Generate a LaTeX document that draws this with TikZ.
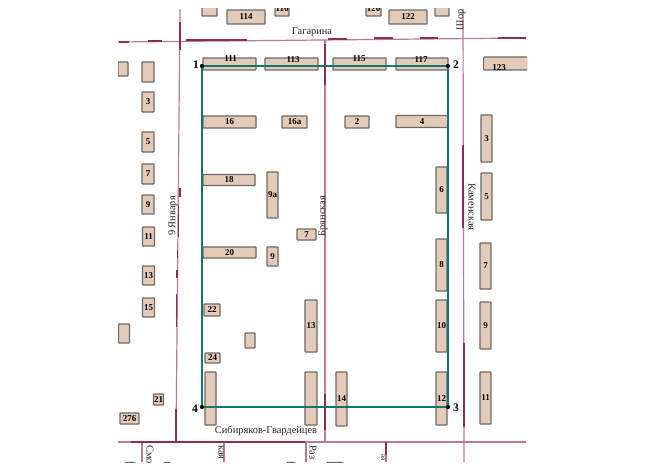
\documentclass[tikz,border=0pt]{standalone}
\usepackage{fontspec}
\setmainfont{Liberation Serif}
\usetikzlibrary{positioning}
\definecolor{walltan}{HTML}{E3CBBA}
\definecolor{wallgray}{HTML}{6F6862}
\definecolor{roadpink}{HTML}{B77A9B}
\definecolor{roaddark}{HTML}{8E2B5A}
\definecolor{routegreen}{HTML}{12766F}
\tikzset{
    house/.style 2 args={
        shape=rectangle,
        draw=wallgray,
        fill=walltan,
        line width=1.1pt,
        rounded corners=0.5pt,
        inner sep=0pt,
        minimum width=#1pt,
        minimum height=#2pt,
        font=\fontsize{9}{9}\selectfont\bfseries
    },
    housenumber/.style ={
        inner sep=0pt,
        font=\fontsize{9}{9}\selectfont\bfseries
    },
    road/.style ={
        draw=roadpink,
        line width=1.2pt
    },
    roadbold/.style ={
        draw=roaddark,
        line width=1.8pt
    },
    street/.style ={
        inner sep=0pt,
        text=black!85,
        font=\fontsize{10.4}{11}\selectfont
    },
    corner/.style ={
        shape=circle,
        fill=black,
        inner sep=0pt,
        minimum size=4pt
    },
    cornerlabel/.style ={
        inner sep=0pt,
        font=\fontsize{11.5}{12}\selectfont\bfseries
    },
    route/.style ={
        draw=routegreen,
        line width=2pt
    }
}

\begin{document}
\begin{tikzpicture}[x=1pt,y=-1pt]
    \useasboundingbox (0,0) rectangle (655,473);
    \begin{scope}
    \clip (118,9) rectangle (527,462);
    % roads
    \draw[road] (118,42) -- (526,38);
    \draw[road] (180,9) -- (176,442);
    \draw[road] (118,442) -- (526,442);
    \draw[road] (325,40) -- (325,442);
    \draw[road] (463,9) -- (464,462);
    \draw[road] (142,442) -- (142,462);
    \draw[road] (224,442) -- (224,462);
    \draw[road] (306,442) -- (306,462);
    \draw[road] (386,442) -- (386,462);
    \draw[roadbold] (119,42) -- (129,42);
    \draw[roadbold] (148,41) -- (162,41);
    \draw[roadbold] (186,40) -- (247,40);
    \draw[roadbold] (328,39) -- (347,39);
    \draw[roadbold] (374,38) -- (393,38);
    \draw[roadbold] (420,38) -- (438,38);
    \draw[roadbold] (498,38) -- (526,38);
    \draw[roadbold] (180,22) -- (180,50);
    \draw[roadbold] (180,188) -- (180,197);
    \draw[roadbold] (178.5,205) -- (178.5,237);
    \draw[roadbold] (177.5,250) -- (177.5,258);
    \draw[roadbold] (177,270) -- (177,278);
    \draw[roadbold] (176.5,294) -- (176.5,327);
    \draw[roadbold] (176,409) -- (176,442);
    \draw[roadbold] (325,44) -- (325,85);
    \draw[roadbold] (325,394) -- (325,430);
    \draw[roadbold] (463,145) -- (463,228);
    \draw[roadbold] (464,343) -- (464,427);
    \draw[roadbold] (131,442) -- (305,442);
    \draw[roadbold] (386,442) -- (386,455);
    % top row
    \node[house={15}{14}] (a1) at(209.5,9) {};
    \node[house={38}{14}] (h114) at(246,17) {114};
    \node[house={14}{14}] (a2) at(282,9) {116};
    \node[house={15}{14}] (a3) at(373.5,9) {120};
    \node[house={38}{14}] (h122) at(408,17) {122};
    \node[house={14}{14}] (a4) at(442,9) {};
    % left of the quarter
    \node[house={10}{14}] (b1) at(123,69) {};
    \node[house={12}{20}] (b2) at(148,72) {};
    \node[house={12}{20}] (b3) at(148,102) {3};
    \node[house={12}{20}] (b5) at(148,142) {5};
    \node[house={12}{20}] (b7) at(148,174) {7};
    \node[house={12}{19}] (b9) at(148,204.5) {9};
    \node[house={12}{19}] (b11) at(148.5,236.5) {11};
    \node[house={12}{19}] (b13) at(148.5,275.5) {13};
    \node[house={12}{19}] (b15) at(148.5,307.5) {15};
    \node[house={11}{19}] (b0) at(124,333.5) {};
    \node[house={10}{11}] (b21) at(158.5,399.5) {21};
    \node[house={19}{11}] (b276) at(129.5,418.5) {276};
    % inside the quarter
    \node[house={53}{12}] (h111) at(229.5,64) {};
    \node[house={53}{12}] (h113) at(291.5,64) {};
    \node[house={53}{12}] (h115) at(359.5,64) {};
    \node[house={52}{12}] (h117) at(422,64) {};
    \node[house={53}{12}] (h16) at(229.5,122) {16};
    \node[house={25}{12}] (h16a) at(294.5,122) {16а};
    \node[house={24}{12}] (h2) at(357,122) {2};
    \node[house={52}{12}] (h4) at(422,121.5) {4};
    \node[house={52}{11}] (h18) at(229,180) {18};
    \node[house={11}{46}] (h9a) at(272.5,195) {9а};
    \node[house={19}{11}] (h7) at(306.5,234.5) {7};
    \node[house={53}{11}] (h20) at(229.5,252.5) {20};
    \node[house={11}{19}] (h9) at(272.5,256.5) {9};
    \node[house={16}{12}] (h22) at(212,310) {22};
    \node[house={15}{10}] (h24) at(212.5,358) {24};
    \node[house={10}{15}] (h0) at(250,340.5) {};
    \node[house={12}{52}] (h13) at(311,326) {13};
    \node[house={11}{53}] (h0a) at(210.5,398.5) {};
    \node[house={12}{53}] (h0b) at(311,398.5) {};
    \node[house={11}{54}] (h14) at(341.5,399) {14};
    \node[house={11}{53}] (h12) at(441.5,398.5) {12};
    \node[house={11}{52}] (h10) at(441.5,326) {10};
    \node[house={11}{52}] (h8) at(441.5,265) {8};
    \node[house={11}{46}] (h6) at(441.5,190) {6};
    % right of the quarter
    \node[house={44}{13},anchor=west] (c123) at(483,63.5) {};
    \node[house={11}{47}] (c3) at(486.5,138.5) {3};
    \node[house={11}{47}] (c5) at(486.5,196.5) {5};
    \node[house={11}{46}] (c7) at(485.5,266) {7};
    \node[house={11}{47}] (c9) at(485.5,325.5) {9};
    \node[house={11}{52}] (c11) at(485.5,398) {11};
    % bottom edge of the map
    \node[house={10}{4}] (d1) at(130,464.5) {};
    \node[house={6}{4}] (d2) at(167,464.5) {};
    \node[house={8}{4}] (d3) at(291,464.5) {};
    \node[house={16}{4}] (d4) at(335,464.5) {};
    % numbers that sit off the middle of their house
    \node[housenumber] (t111) at(230.5,59) {111};
    \node[housenumber] (t113) at(293,60) {113};
    \node[housenumber] (t115) at(359,59) {115};
    \node[housenumber] (t117) at(421,60) {117};
    \node[housenumber] (t123) at(499,68) {123};
    % streets
    \node[street] (gagarina) at(312,32) {Гагарина};
    \node[street,rotate=90] (shor) at(461,20) {Шор};
    \node[street,rotate=90] (yanvarya) at(173,216) {9 Января};
    \node[street,rotate=90] (bryansk) at(323,216) {Брянская};
    \node[street,rotate=-90] (kamensk) at(472,207) {Каменская};
    \node[street] (sibir) at(266,431) {Сибиряков-Гвардейцев};
    \node[street,rotate=-90,anchor=west] (smo) at(150,445) {Смо};
    \node[street,rotate=-90,anchor=west] (kaya) at(221,445) {кая};
    \node[street,rotate=-90,anchor=west] (raz) at(313,445) {Раз};
    \node[street,rotate=-90,anchor=east,font=\fontsize{7}{8}\selectfont] (aya) at(383,461) {ая};
    \end{scope}
    % route
    \node[corner] (p1) at(202,66) {};
    \node[corner] (p2) at(448,66) {};
    \node[corner] (p3) at(448,407) {};
    \node[corner] (p4) at(202,407) {};
    \draw[route] (p1.center) -- (p2.center) -- (p3.center) -- (p4.center) -- cycle;
    \node[corner] at(p1) {};
    \node[corner] at(p2) {};
    \node[corner] at(p3) {};
    \node[corner] at(p4) {};
    \node[cornerlabel] (n1) at(196,65) {1};
    \node[cornerlabel] (n2) at(456,65) {2};
    \node[cornerlabel] (n3) at(456,408) {3};
    \node[cornerlabel] (n4) at(195,409) {4};
\end{tikzpicture}
\end{document}
